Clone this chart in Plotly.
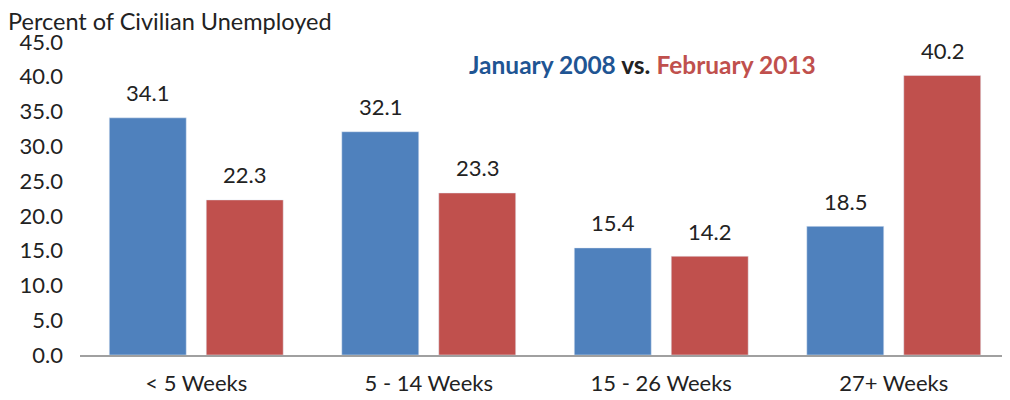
import plotly.graph_objects as go

categories = ["< 5 Weeks", "5 - 14 Weeks", "15 - 26 Weeks", "27+ Weeks"]
jan_2008 = [34.1, 32.1, 15.4, 18.5]
feb_2013 = [22.3, 23.3, 14.2, 40.2]
y_ticks = [0, 5, 10, 15, 20, 25, 30, 35, 40, 45]

FONT = "Lato"
# page body has an 8px margin, so the figure is 8px smaller than the window
W, H = 1002, 392
L, R, T, B = 72, 0, 34, 45
PW = W - L - R

fig = go.Figure()
fig.add_trace(go.Bar(x=categories, y=jan_2008, name="January 2008",
                     marker_color="#4F81BD"))
fig.add_trace(go.Bar(x=categories, y=feb_2013, name="February 2013",
                     marker_color="#C0504D"))

annotations = []
for series, shift in ((jan_2008, -48.5), (feb_2013, 48.5)):
    for c, v in zip(categories, series):
        annotations.append(dict(x=c, y=v, xref="x", yref="y", text=f"{v:.1f}",
                                xshift=shift, yshift=25, showarrow=False,
                                xanchor="center", yanchor="middle",
                                font=dict(size=22, family=FONT, color="#222222")))

annotations += [
    dict(text="Percent of Civilian Unemployed", xref="paper", yref="paper",
         x=-L/PW, y=1.0, xshift=-2, yshift=21, xanchor="left", yanchor="middle",
         showarrow=False, font=dict(size=23.5, family=FONT, color="#222222")),
    dict(text="<b><span style='color:#1F5593'>January 2008</span> vs. "
              "<span style='color:#C0504D'>February 2013</span></b>",
         xref="paper", yref="paper", x=(642-8-L)/PW, y=1.0, yshift=-22,
         xanchor="center", yanchor="middle", showarrow=False,
         font=dict(size=24.5, family=FONT, color="#222222")),
]

fig.update_layout(
    width=W, height=H,
    margin=dict(l=L, r=R, t=T, b=B),
    paper_bgcolor="white", plot_bgcolor="white",
    barmode="group", bargap=0.166, bargroupgap=0.206,
    showlegend=False,
    font=dict(family=FONT, size=22, color="#222222"),
    xaxis=dict(showline=True, linecolor="#A0A0A0", linewidth=2, ticks="",
               automargin=False, ticklabelstandoff=8,
               tickfont=dict(size=22, family=FONT)),
    yaxis=dict(range=[0, 45], tickvals=y_ticks, tickformat=".1f", showgrid=False,
               zeroline=False, showline=False, ticks="", ticklabelstandoff=16,
               automargin=False, tickfont=dict(size=22, family=FONT)),
    annotations=annotations,
)

fig.write_html("out.html")
